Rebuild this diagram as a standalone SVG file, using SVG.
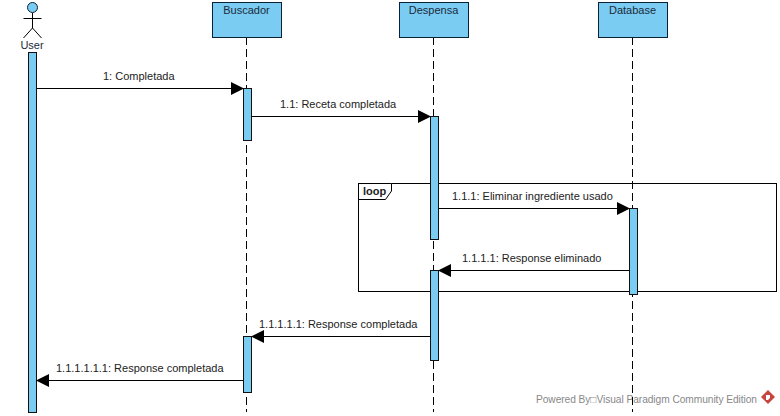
<svg xmlns="http://www.w3.org/2000/svg" width="780" height="416" viewBox="0 0 780 416">
<style>
text{font-family:"Liberation Sans",Arial,sans-serif;font-size:11px;fill:#222}
.box{fill:#7accf2;stroke:#0a2238;stroke-width:1}
.act{fill:#7accf2;stroke:#111;stroke-width:1}
.life{stroke:#000;stroke-width:1;stroke-dasharray:8 4;fill:none}
.msg{stroke:#000;stroke-width:1;fill:none}
.head{fill:#000;stroke:none}
.title{text-anchor:middle;fill:#1a2a3a}
.frame{fill:none;stroke:#000;stroke-width:1}
</style>
<rect width="780" height="416" fill="#fff"/>
<g id="watermark">
<text x="536" y="403" textLength="221" style="fill:#888;font-size:10.2px">Powered By□Visual Paradigm Community Edition</text>
<path d="M768 390L775 397L768 404L761 397Z" fill="#c8453f"/>
<path d="M766 395H770V398L768 400H766Z" fill="#fff"/>
</g>
<g id="loop-frame">
<rect class="frame" x="358.5" y="183.5" width="418" height="108"/>
<path d="M358.5 199.5H385.5L391.5 191V183.5" fill="#fff" stroke="#000"/>
<text x="363" y="195" style="font-weight:bold">loop</text>
</g>
<g id="lifelines">
<path class="life" d="M246.5 37V412"/>
<path class="life" d="M433.5 37V412"/>
<path class="life" d="M632.5 37V412"/>
</g>
<g id="user">
<circle cx="32.5" cy="7.5" r="5" fill="#7accf2" stroke="#0a2238"/>
<path d="M32.5 13V28M23.5 18.5H41.5M32.5 28L23.5 38M32.5 28L41.5 38" fill="none" stroke="#000"/>
<text class="title" x="32" y="49">User</text>
<rect class="act" x="28.5" y="52.5" width="8" height="360"/>
</g>
<g id="buscador">
<rect class="box" x="212.5" y="2.5" width="69" height="35"/>
<text class="title" x="246.5" y="14">Buscador</text>
<rect class="act" x="243.5" y="88.5" width="8" height="52"/>
<rect class="act" x="243.5" y="336.5" width="8" height="56"/>
</g>
<g id="despensa">
<rect class="box" x="399.5" y="2.5" width="69" height="35"/>
<text class="title" x="433.5" y="14">Despensa</text>
<rect class="act" x="430.5" y="116.5" width="8" height="123"/>
<rect class="act" x="430.5" y="270.5" width="8" height="90"/>
</g>
<g id="database">
<rect class="box" x="598.5" y="2.5" width="69" height="35"/>
<text class="title" x="632.5" y="14">Database</text>
<rect class="act" x="629.5" y="208.5" width="8" height="86"/>
</g>
<g id="connectors">
<path class="msg" d="M36.5 88.5H231"/><path class="head" d="M231 82L244 88.5L231 95Z"/>
<path class="msg" d="M251.5 116.5H418"/><path class="head" d="M418 110L431 116.5L418 123Z"/>
<path class="msg" d="M438.5 208.5H617"/><path class="head" d="M617 202L630 208.5L617 215Z"/>
<path class="msg" d="M629.5 270.5H451"/><path class="head" d="M451 264L438 270.5L451 277Z"/>
<path class="msg" d="M430.5 336.5H264"/><path class="head" d="M264 330L251 336.5L264 343Z"/>
<path class="msg" d="M243.5 380.5H49"/><path class="head" d="M49 374L36 380.5L49 387Z"/>
</g>
<g id="labels">
<text x="103" y="80">1: Completada</text>
<text x="280" y="108">1.1: Receta completada</text>
<text x="452" y="200">1.1.1: Eliminar ingrediente usado</text>
<text x="462" y="262">1.1.1.1: Response eliminado</text>
<text x="259" y="328">1.1.1.1.1: Response completada</text>
<text x="56" y="372">1.1.1.1.1.1: Response completada</text>
</g>
</svg>
